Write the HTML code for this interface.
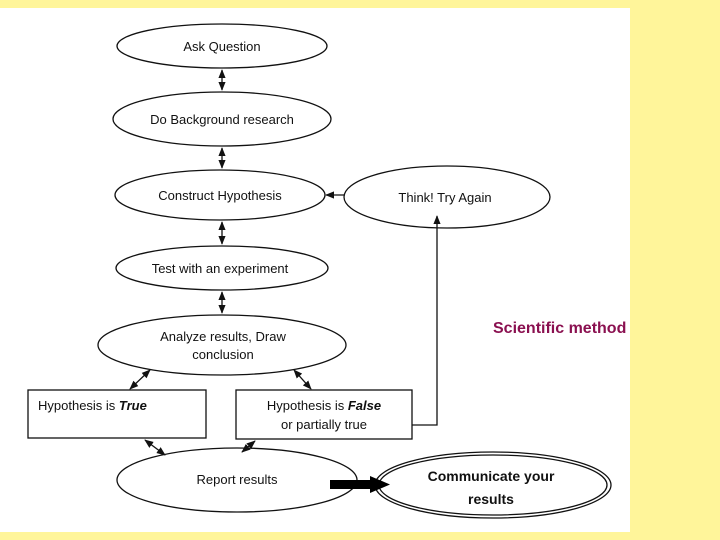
<!DOCTYPE html>
<html><head><style>
html,body{margin:0;padding:0;width:720px;height:540px;overflow:hidden;background:#fff59a;}
svg{position:absolute;left:0;top:0}
</style></head><body>
<svg width="720" height="540" viewBox="0 0 720 540" font-family="'Liberation Sans',sans-serif">
<defs>
<marker id="a" viewBox="0 0 10 10" refX="9" refY="5" markerWidth="7" markerHeight="7" orient="auto-start-reverse"><path d="M0,1 L10,5 L0,9z" fill="#111"/></marker>
</defs>
<rect x="0" y="8" width="630" height="524" fill="#fff"/>
<g fill="none" stroke="#111" stroke-width="1.3">
<ellipse cx="222" cy="46" rx="105" ry="22"/>
<ellipse cx="222" cy="119" rx="109" ry="27"/>
<ellipse cx="220" cy="195" rx="105" ry="25"/>
<ellipse cx="447" cy="197" rx="103" ry="31"/>
<ellipse cx="222" cy="268" rx="106" ry="22"/>
<ellipse cx="222" cy="345" rx="124" ry="30"/>
<rect x="28" y="390" width="178" height="48"/>
<rect x="236" y="390" width="176" height="49"/>
<ellipse cx="237" cy="480" rx="120" ry="32"/>
<ellipse cx="493" cy="485" rx="118" ry="33"/>
<ellipse cx="493" cy="485" rx="114" ry="30"/>
<line x1="222" y1="70" x2="222" y2="90" marker-start="url(#a)" marker-end="url(#a)"/>
<line x1="222" y1="148" x2="222" y2="168" marker-start="url(#a)" marker-end="url(#a)"/>
<line x1="222" y1="222" x2="222" y2="244" marker-start="url(#a)" marker-end="url(#a)"/>
<line x1="222" y1="292" x2="222" y2="313" marker-start="url(#a)" marker-end="url(#a)"/>
<line x1="150" y1="370" x2="130" y2="389" marker-start="url(#a)" marker-end="url(#a)"/>
<line x1="294" y1="370" x2="311" y2="389" marker-start="url(#a)" marker-end="url(#a)"/>
<line x1="145" y1="440" x2="165" y2="455" marker-start="url(#a)" marker-end="url(#a)"/>
<line x1="255" y1="441" x2="242" y2="452" marker-start="url(#a)" marker-end="url(#a)"/>
<line x1="344" y1="195" x2="326" y2="195" marker-end="url(#a)"/>
<polyline points="412,425 437,425 437,216" marker-end="url(#a)"/>
</g>
<rect x="330" y="480" width="42" height="9" fill="#000"/>
<path d="M370,476 L390,484.5 L370,493z" fill="#000"/>
<g font-size="13" fill="#111" text-anchor="middle">
<text x="222" y="51">Ask Question</text>
<text x="222" y="124">Do Background research</text>
<text x="220" y="200">Construct Hypothesis</text>
<text x="445" y="202">Think!  Try Again</text>
<text x="220" y="273">Test with an experiment</text>
<text x="223" y="341">Analyze results, Draw</text>
<text x="223" y="359">conclusion</text>
<text x="38" y="410" text-anchor="start">Hypothesis is <tspan font-weight="bold" font-style="italic">True</tspan></text>
<text x="324" y="410">Hypothesis is <tspan font-weight="bold" font-style="italic">False</tspan></text>
<text x="324" y="429">or partially true</text>
<text x="237" y="484">Report results</text>
<text x="491" y="481" font-size="14" font-weight="bold">Communicate your</text>
<text x="491" y="504" font-size="14" font-weight="bold">results</text>
</g>
<text x="493" y="333" font-size="16" font-weight="bold" fill="#8a1050">Scientific method</text>
</svg>
</body></html>
